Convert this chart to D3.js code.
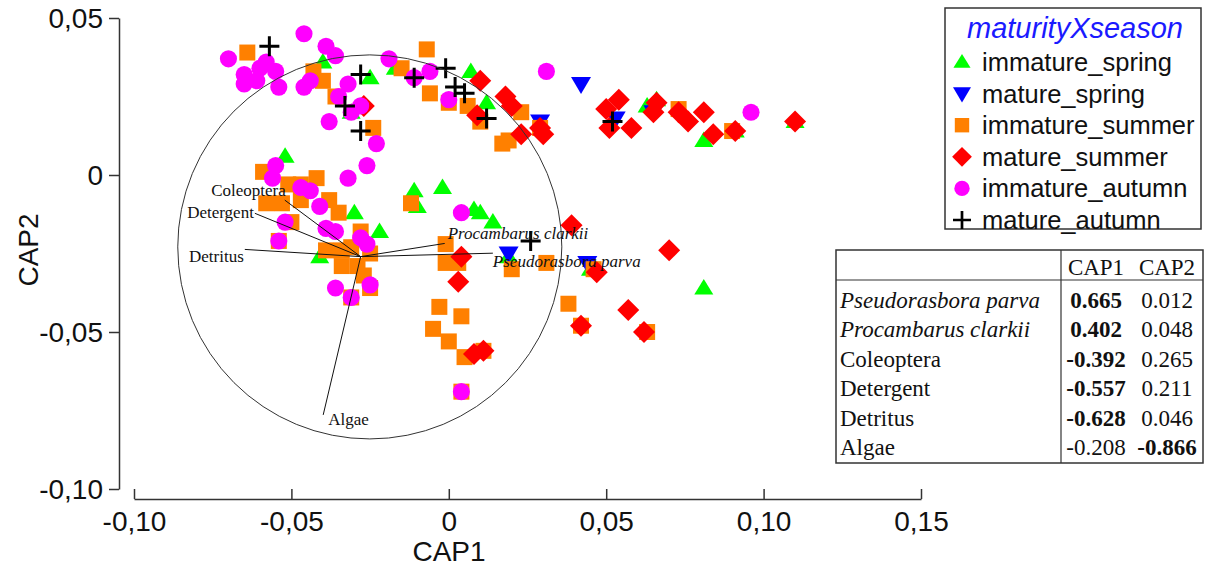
<!DOCTYPE html>
<html>
<head>
<meta charset="utf-8">
<script src="https://cdn.jsdelivr.net/npm/d3@7"></script>
<style>
  body { margin: 0; background: #fff; }
  svg { display: block; }
</style>
</head>
<body>
<div id="chart"></div>
<script>
// CAP ordination scores, [CAP1, CAP2] per sample
const immatureSpring = [
  [-0.040, 0.036], [-0.025, 0.031], [-0.017, 0.034], [-0.031, 0.020], [-0.052, 0.006],
  [0.007, 0.033], [0.012, 0.023], [-0.011, -0.005], [-0.002, -0.004], [-0.010, -0.010],
  [0.008, -0.011], [0.010, -0.012], [0.014, -0.015], [-0.030, -0.012], [-0.022, -0.018],
  [-0.041, -0.026], [0.019, -0.026], [0.045, -0.030], [0.063, 0.022], [0.066, 0.024],
  [0.081, 0.011], [0.091, 0.014], [0.110, 0.017], [0.081, -0.036]
];
const matureSpring = [
  [0.042, 0.029], [0.053, 0.018], [0.065, 0.020], [0.029, 0.017], [0.019, -0.025], [0.044, -0.028]
];
const immatureSummer = [
  [-0.064, 0.039], [-0.043, 0.033], [-0.040, 0.030], [-0.036, 0.025], [-0.015, 0.034],
  [-0.007, 0.040], [-0.006, 0.026], [-0.024, 0.015], [0.000, 0.023], [0.006, 0.022],
  [0.010, 0.017], [0.023, 0.020], [0.017, 0.010], [0.019, 0.011], [0.029, 0.015],
  [0.073, 0.021], [0.090, 0.014], [-0.059, 0.001], [-0.051, -0.003], [-0.047, -0.003],
  [-0.042, -0.001], [-0.038, -0.008], [-0.058, -0.009], [-0.053, -0.009], [-0.047, -0.008],
  [-0.035, -0.012], [-0.050, -0.015], [-0.054, -0.021], [-0.039, -0.024], [-0.034, -0.024],
  [-0.028, -0.018], [-0.025, -0.025], [-0.034, -0.029], [-0.029, -0.029], [-0.027, -0.032],
  [-0.025, -0.036], [-0.031, -0.039], [-0.031, -0.023], [-0.012, -0.009], [-0.001, -0.022],
  [-0.001, -0.028], [0.003, -0.028], [0.020, -0.030], [0.031, -0.028], [0.046, -0.030],
  [0.038, -0.041], [-0.003, -0.042], [0.004, -0.045], [-0.005, -0.049], [0.000, -0.053],
  [0.005, -0.058], [0.011, -0.056], [0.004, -0.069], [0.042, -0.048], [0.063, -0.050]
];
const matureSummer = [
  [-0.027, 0.022], [0.010, 0.030], [0.018, 0.025], [0.020, 0.022], [0.009, 0.019],
  [0.023, 0.013], [0.029, 0.015], [0.030, 0.013], [0.050, 0.021], [0.054, 0.024],
  [0.051, 0.015], [0.058, 0.015], [0.066, 0.023], [0.065, 0.020], [0.073, 0.020],
  [0.076, 0.017], [0.081, 0.020], [0.084, 0.013], [0.091, 0.014], [0.110, 0.017],
  [0.039, -0.016], [0.004, -0.026], [0.003, -0.034], [0.047, -0.031], [0.070, -0.024],
  [0.057, -0.043], [0.042, -0.048], [0.062, -0.050], [0.008, -0.057], [0.011, -0.056]
];
const immatureAutumn = [
  [-0.046, 0.045], [-0.070, 0.037], [-0.065, 0.032], [-0.060, 0.034], [-0.058, 0.036],
  [-0.055, 0.033], [-0.065, 0.029], [-0.061, 0.030], [-0.054, 0.028], [-0.039, 0.041],
  [-0.036, 0.038], [-0.046, 0.028], [-0.044, 0.030], [-0.019, 0.037], [-0.032, 0.029],
  [-0.035, 0.025], [-0.031, 0.020], [-0.028, 0.022], [-0.038, 0.017], [-0.023, 0.010],
  [-0.026, 0.003], [-0.032, -0.001], [-0.011, 0.031], [-0.006, 0.033], [0.000, 0.024],
  [0.031, 0.033], [0.096, 0.020], [-0.055, 0.003], [-0.056, -0.001], [-0.047, -0.004],
  [-0.044, -0.005], [-0.041, -0.010], [-0.052, -0.015], [-0.039, -0.017], [-0.036, -0.018],
  [-0.028, -0.020], [-0.026, -0.022], [-0.054, -0.021], [-0.036, -0.036], [-0.025, -0.035],
  [-0.031, -0.039], [0.004, -0.012], [0.004, -0.069]
];
const matureAutumn = [
  [-0.057, 0.041], [-0.028, 0.032], [-0.033, 0.022], [-0.028, 0.014], [-0.011, 0.031],
  [-0.001, 0.034], [0.002, 0.028], [0.005, 0.026], [0.012, 0.018], [0.052, 0.017], [0.026, -0.021]
];

const groupNames = ["immature_spring", "mature_spring", "immature_summer", "mature_summer", "immature_autumn", "mature_autumn"];
const groupData = [immatureSpring, matureSpring, immatureSummer, matureSummer, immatureAutumn, matureAutumn];

// vector overlay (drawn in plot units) and correlation table
const vectorNames = ["Pseudorasbora parva", "Procambarus clarkii", "Coleoptera", "Detergent", "Detritus", "Algae"];
const vectorEndX = [0.0140, -0.0013, -0.0521, -0.0616, -0.0648, -0.0399];
const vectorEndY = [-0.0249, -0.0218, -0.0080, -0.0122, -0.0237, -0.0764];
const vectorOrigin = [-0.0280, -0.0260];
const circleCenter = [-0.0251, -0.0229];
const circleRadius = 0.061;

const cap1Values = ["0.665", "0.402", "-0.392", "-0.557", "-0.628", "-0.208"];
const cap2Values = ["0.012", "0.048", "0.265", "0.211", "0.046", "-0.866"];

const xTickValues = [-0.10, -0.05, 0, 0.05, 0.10, 0.15];
const xTickLabels = ["-0,10", "-0,05", "0", "0,05", "0,10", "0,15"];
const yTickValues = [-0.10, -0.05, 0, 0.05];
const yTickLabels = ["-0,10", "-0,05", "0", "0,05"];

const width = 1212, height = 567;

const svg = d3.select('#chart').append('svg')
  .attr('width', width)
  .attr('height', height);

const x = d3.scaleLinear().domain([-0.10, 0.15]).range([134, 921]);
const y = d3.scaleLinear().domain([-0.10, 0.05]).range([489, 18]);

// marker shapes
const shapes = [
  {color: '#00ff00', path: 'M0,-9L9.5,6.5L-9.5,6.5Z', stroke: null},
  {color: '#0000ff', path: 'M-10,-7L10,-7L0,10Z', stroke: null},
  {color: '#ff8000', path: 'M-8,-8H8V8H-8Z', stroke: null},
  {color: '#ff0000', path: 'M0,-11L11,0L0,11L-11,0Z', stroke: null},
  {color: '#ff00ff', path: d3.symbol(d3.symbolCircle, 230)(), stroke: null},
  {color: '#000000', path: 'M-10,0H10M0,-10V10', stroke: 3}
];

function styleShape(sel, i) {
  const s = shapes[i];
  sel.attr('d', s.path);
  if (s.stroke) sel.attr('fill', 'none').attr('stroke', s.color).attr('stroke-width', s.stroke);
  else sel.attr('fill', s.color);
}

// axes
function xAxis(g) {
  g.attr('transform', 'translate(0,499)')
    .call(d3.axisBottom(x).tickValues(xTickValues)
      .tickFormat((d, i) => xTickLabels[i]).tickSizeInner(-10).tickSizeOuter(0).tickPadding(12));
}
function yAxis(g) {
  g.attr('transform', 'translate(119,0)')
    .call(d3.axisLeft(y).tickValues(yTickValues)
      .tickFormat((d, i) => yTickLabels[i]).tickSizeInner(10).tickSizeOuter(0).tickPadding(6));
}
const gx = svg.append('g').call(xAxis);
const gy = svg.append('g').call(yAxis);
[gx, gy].forEach(g => {
  g.selectAll('path, line').attr('stroke', '#333').attr('stroke-width', 1.5);
  g.selectAll('text').attr('font-family', 'Liberation Sans, Arial, sans-serif')
    .attr('font-size', 28).attr('fill', '#111');
});
gy.selectAll('text').attr('dy', '0.35em');

svg.append('text').attr('x', 449).attr('y', 561).attr('text-anchor', 'middle')
  .attr('font-family', 'Liberation Sans, Arial, sans-serif').attr('font-size', 28).attr('fill', '#111')
  .text('CAP1');
svg.append('text').attr('transform', 'translate(38,250) rotate(-90)').attr('text-anchor', 'middle')
  .attr('font-family', 'Liberation Sans, Arial, sans-serif').attr('font-size', 28).attr('fill', '#111')
  .text('CAP2');

// points
groupData.forEach((pts, i) => {
  svg.append('g').selectAll('path')
    .data(pts)
    .join('path')
      .attr('transform', d => `translate(${x(d[0])},${y(d[1])})`)
      .call(styleShape, i);
});

// correlation circle and vectors
const pxPerUnit = x(1) - x(0);
svg.append('circle')
  .attr('cx', x(circleCenter[0])).attr('cy', y(circleCenter[1]))
  .attr('r', circleRadius * pxPerUnit)
  .attr('fill', 'none').attr('stroke', '#333').attr('stroke-width', 1);

const labelPos = {
  'Pseudorasbora parva': {anchor: 'start', dx: 0, dy: 14, italic: true},
  'Procambarus clarkii': {anchor: 'start', dx: 3, dy: -4, italic: true},
  'Coleoptera': {anchor: 'end', dx: 1, dy: -4},
  'Detergent': {anchor: 'end', dx: -1, dy: 5},
  'Detritus': {anchor: 'end', dx: -1, dy: 13},
  'Algae': {anchor: 'start', dx: 5, dy: 10}
};

vectorNames.forEach((name, i) => {
  const ex = x(vectorEndX[i]), ey = y(vectorEndY[i]);
  svg.append('line')
    .attr('x1', x(vectorOrigin[0])).attr('y1', y(vectorOrigin[1]))
    .attr('x2', ex).attr('y2', ey)
    .attr('stroke', '#111').attr('stroke-width', 1);
  const p = labelPos[name];
  svg.append('text')
    .attr('x', ex + p.dx).attr('y', ey + p.dy)
    .attr('text-anchor', p.anchor)
    .attr('font-family', 'Liberation Serif, Times New Roman, serif')
    .attr('font-size', 17)
    .attr('font-style', p.italic ? 'italic' : 'normal')
    .attr('fill', '#111')
    .text(name);
});

// legend
const legend = svg.append('g');
legend.append('rect').attr('x', 945).attr('y', 8).attr('width', 256).attr('height', 221)
  .attr('fill', '#fff').attr('stroke', '#333').attr('stroke-width', 1.5);
legend.append('text').attr('x', 1075).attr('y', 38).attr('text-anchor', 'middle')
  .attr('font-family', 'Liberation Sans, Arial, sans-serif').attr('font-size', 29)
  .attr('font-style', 'italic').attr('fill', '#1a1aff').text('maturityXseason');
groupNames.forEach((name, i) => {
  const cy = 62 + i * 31.6;
  legend.append('path').attr('transform', `translate(962,${cy}) scale(0.9)`).call(styleShape, i);
  legend.append('text').attr('x', 982).attr('y', cy + 9)
    .attr('font-family', 'Liberation Sans, Arial, sans-serif').attr('font-size', 25.5)
    .attr('fill', '#111').text(name);
});

// table
const table = svg.append('g').attr('font-family', 'Liberation Serif, Times New Roman, serif')
  .attr('font-size', 23).attr('fill', '#111');
table.append('rect').attr('x', 836).attr('y', 250).attr('width', 367).attr('height', 213)
  .attr('fill', '#fff').attr('stroke', '#333').attr('stroke-width', 1.5);
table.append('line').attr('x1', 836).attr('x2', 1203).attr('y1', 280).attr('y2', 280)
  .attr('stroke', '#333').attr('stroke-width', 1.2);
table.append('line').attr('x1', 1061).attr('x2', 1061).attr('y1', 250).attr('y2', 463)
  .attr('stroke', '#333').attr('stroke-width', 1.2);
table.append('text').attr('x', 1096).attr('y', 275).attr('text-anchor', 'middle').text('CAP1');
table.append('text').attr('x', 1167).attr('y', 275).attr('text-anchor', 'middle').text('CAP2');
vectorNames.forEach((name, i) => {
  const by = 308 + i * 29.4;
  table.append('text').attr('x', 840).attr('y', by)
    .attr('font-style', i < 2 ? 'italic' : 'normal').text(name);
  table.append('text').attr('x', 1096).attr('y', by).attr('text-anchor', 'middle')
    .attr('font-weight', Math.abs(+cap1Values[i]) >= 0.3 ? 'bold' : 'normal').text(cap1Values[i]);
  table.append('text').attr('x', 1167).attr('y', by).attr('text-anchor', 'middle')
    .attr('font-weight', Math.abs(+cap2Values[i]) >= 0.3 ? 'bold' : 'normal').text(cap2Values[i]);
});
</script>
</body>
</html>
